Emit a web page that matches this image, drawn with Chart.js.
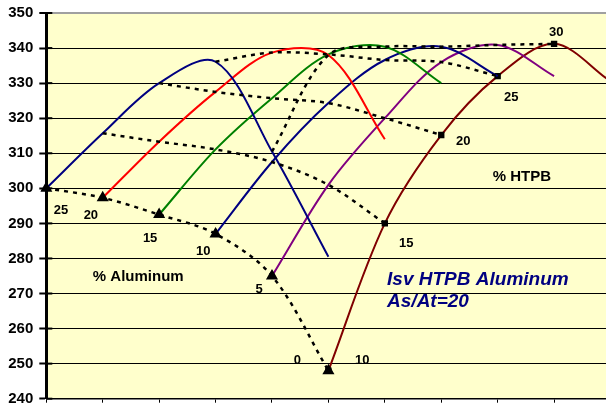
<!DOCTYPE html>
<html>
<head>
<meta charset="utf-8">
<script src="https://cdn.jsdelivr.net/npm/chart.js@4.4.1/dist/chart.umd.min.js"></script>
<style>
  html, body { margin: 0; padding: 0; background: #fff; }
  #wrap { width: 606px; height: 405px; }
</style>
</head>
<body>
<div id="wrap"><canvas id="isv-chart" width="606" height="405"></canvas></div>
<script>
// Isv vs HTPB / Aluminum content, As/At = 20

// ── Data ───────────────────────────────────────────────────────────────────────
const AL_LEVELS   = [25, 20, 15, 10, 5, 0];       // % aluminum, one curve each
const HTPB_LEVELS = [10, 15, 20, 25, 30, 35];     // % HTPB along each curve
const AL_COLORS   = ['#000080', '#ff0000', '#008000', '#000080', '#800080', '#800000'];

// Isv, first point is 10% HTPB, curve k starts at x = k
const ISV_AL25 = [300.0, 315.7, 330.0, 336.1, 310.5, 280.5];
const ISV_AL20 = [297.3, 313.3, 327.5, 338.7, 338.0, 314.0];
const ISV_AL15 = [292.5, 311.1, 325.7, 338.2, 340.4, 330.0];
const ISV_AL10 = [287.0, 307.5, 324.3, 336.6, 340.4, 332.0];
const ISV_AL5  = [275.0, 301.0, 320.0, 336.0, 340.9, 332.0];
const ISV_AL0  = [248.0, 290.0, 315.2, 332.0, 341.2, 330.5];
const AL_CURVES = [ISV_AL25, ISV_AL20, ISV_AL15, ISV_AL10, ISV_AL5, ISV_AL0];

const Y_MIN = 240, Y_MAX = 350, Y_STEP = 10;
const X_MAX = 9.92;   // plot is cut at the right edge

// text placed on the plot, in data units
const LABELS = [
  { text: '25', x: 0.26, y: 293.8 },
  { text: '20', x: 0.79, y: 292.4 },
  { text: '15', x: 1.84, y: 285.8 },
  { text: '10', x: 2.78, y: 281.9 },
  { text: '5',  x: 3.77, y: 271.3 },
  { text: '0',  x: 4.45, y: 251.0 },
  { text: '10', x: 5.60, y: 251.0 },
  { text: '15', x: 6.38, y: 284.4 },
  { text: '20', x: 7.39, y: 313.5 },
  { text: '25', x: 8.24, y: 326.0 },
  { text: '30', x: 9.04, y: 344.6 },
  { text: '% HTPB',     x: 8.43, y: 303.2, size: 15 },
  { text: '% Aluminum', x: 1.63, y: 274.7, size: 15 },
  { text: 'Isv HTPB Aluminum', x: 6.04, y: 273.8, size: 19, italic: true, color: '#000080', align: 'left' },
  { text: 'As/At=20',          x: 6.04, y: 267.6, size: 19, italic: true, color: '#000080', align: 'left' },
];

const FONT = "'Liberation Sans', Arial, sans-serif";

// ── Datasets ───────────────────────────────────────────────────────────────────
function curvePoints(values, start) {
  return values.map((v, i) => ({ x: start + i, y: v }));
}

// constant-HTPB line: j-th point of every aluminum curve
function htpbPoints(j) {
  return AL_CURVES.map((c, k) => ({ x: k + j, y: c[j] }));
}

const datasets = [];

// dotted constant-HTPB lines (10..30 %), drawn on top
for (let j = 0; j < 5; j++) {
  datasets.push({
    label: `${HTPB_LEVELS[j]}% HTPB`,
    data: htpbPoints(j),
    borderColor: '#000',
    backgroundColor: '#000',
    borderWidth: 2.5,
    borderDash: [4, 5],
    pointStyle: 'triangle',
    pointRadius: j === 0 ? 4.5 : 0,
    tension: 0.33,
    fill: false,
  });
}

AL_CURVES.forEach((values, k) => {
  const isLast = k === AL_CURVES.length - 1;
  datasets.push({
    label: `${AL_LEVELS[k]}% Al`,
    data: curvePoints(values, k),
    borderColor: AL_COLORS[k],
    backgroundColor: '#000',
    borderWidth: 2,
    pointStyle: 'rect',
    pointRadius: isLast ? values.map((_, i) => (i < 5 ? 4.5 : 0)) : 0,
    pointBorderWidth: 0,
    tension: 0.33,
    fill: false,
  });
});

// ── Plugins ────────────────────────────────────────────────────────────────────
const plotBackground = {
  id: 'plotBackground',
  beforeDraw(chart) {
    const { ctx, chartArea: a } = chart;
    ctx.save();
    ctx.fillStyle = '#fff';
    ctx.fillRect(0, 0, chart.width, chart.height);
    ctx.fillStyle = '#ffffcc';
    ctx.fillRect(a.left, a.top, a.right - a.left, a.bottom - a.top);
    ctx.restore();
  },
};

const innerTicks = {
  id: 'innerTicks',
  afterDraw(chart) {
    const { ctx, chartArea: a } = chart;
    const y = chart.scales.y;
    ctx.save();
    ctx.strokeStyle = '#000';
    ctx.lineWidth = 2;
    for (let v = Y_MIN; v <= Y_MAX; v += Y_STEP) {
      const py = y.getPixelForValue(v);
      ctx.beginPath();
      ctx.moveTo(a.left, py);
      ctx.lineTo(a.left + 6, py);
      ctx.stroke();
    }
    ctx.restore();
  },
};

const plotLabels = {
  id: 'plotLabels',
  afterDatasetsDraw(chart) {
    const { ctx } = chart;
    const { x, y } = chart.scales;
    ctx.save();
    ctx.textBaseline = 'middle';
    for (const l of LABELS) {
      ctx.font = `${l.italic ? 'italic ' : ''}bold ${l.size || 13}px ${FONT}`;
      ctx.fillStyle = l.color || '#000';
      ctx.textAlign = l.align || 'center';
      ctx.fillText(l.text, x.getPixelForValue(l.x), y.getPixelForValue(l.y));
    }
    ctx.restore();
  },
};

// ── Chart ──────────────────────────────────────────────────────────────────────
new Chart(document.getElementById('isv-chart'), {
  type: 'line',
  data: { datasets },
  plugins: [plotBackground, innerTicks, plotLabels],
  options: {
    responsive: false,
    animation: false,
    events: [],
    layout: { padding: { top: 13, left: 0, right: 0, bottom: 0 }, autoPadding: false },
    plugins: { legend: { display: false }, tooltip: { enabled: false } },
    elements: { line: { capBezierPoints: true } },
    datasets: { line: { clip: 6 } },
    scales: {
      x: {
        type: 'linear',
        min: 0,
        max: X_MAX,
        ticks: { display: false, stepSize: 1 },
        afterBuildTicks: (s) => { s.ticks = s.ticks.filter(t => Number.isInteger(t.value)); },
        afterFit: (s) => { s.height = 6.3; s.paddingLeft = 0; s.paddingRight = 0; },
        grid: { drawOnChartArea: false, drawTicks: true, tickLength: 4, tickWidth: 1, tickColor: '#000' },
        border: { display: true, color: '#000', width: 1.5 },
      },
      y: {
        min: Y_MIN,
        max: Y_MAX,
        ticks: {
          stepSize: Y_STEP,
          padding: 6,
          color: '#000',
          font: { family: FONT, size: 15, weight: 'bold' },
        },
        afterFit: (s) => { s.width = 46.3; s.paddingTop = 0; s.paddingBottom = 0; },
        grid: {
          color: (c) => (c.tick && c.tick.value === Y_MAX ? '#a0a0a0' : '#000'),
          lineWidth: (c) => (c.tick && c.tick.value === Y_MAX ? 2 : 1),
          drawTicks: true,
          tickLength: 7,
          tickWidth: 2,
          tickColor: '#000',
        },
        border: { display: true, color: '#000', width: 3 },
      },
    },
  },
});
</script>
</body>
</html>
